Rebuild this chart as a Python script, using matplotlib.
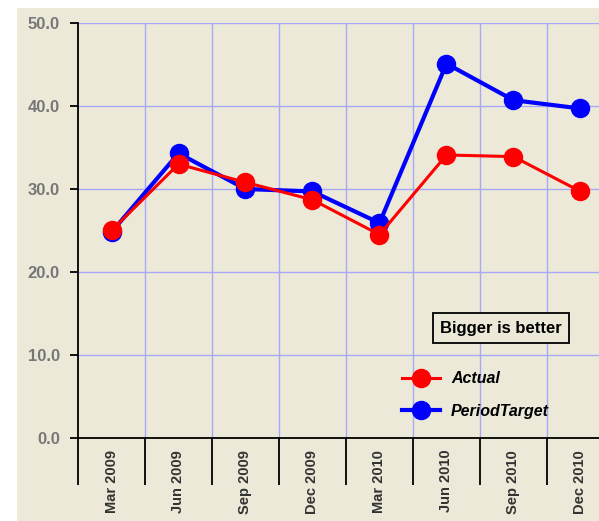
import matplotlib
matplotlib.use("Agg")
import matplotlib.pyplot as plt
from matplotlib.patches import Rectangle
from matplotlib.ticker import FixedLocator

plt.rcParams['font.family'] = ['Liberation Sans', 'DejaVu Sans']

quarters = ["Mar 2009", "Jun 2009", "Sep 2009", "Dec 2009",
            "Mar 2010", "Jun 2010", "Sep 2010", "Dec 2010"]
actual = [25.0, 33.0, 30.8, 28.7, 24.5, 34.1, 33.9, 29.7]
target = [24.8, 34.3, 30.0, 29.7, 25.9, 45.1, 40.7, 39.7]
yticks = [0, 10, 20, 30, 40, 50]

bg = '#ece9d8'
grid_c = '#a8a8f8'

fig = plt.figure(figsize=(5.99, 5.21), dpi=100)
fig.patch.set_facecolor('white')
fig.patches.append(Rectangle((17/599, 0), 1, 1 - 8/521, transform=fig.transFigure,
                             facecolor=bg, edgecolor='none', zorder=-10))

# plot area runs past the right edge of the image (last column is cut off)
ax = fig.add_axes([78/599, 83/521, 536/599, 415/521])
ax.set_facecolor(bg)

x = list(range(len(quarters)))
ax.plot(x, target, color='#0000ff', lw=3, marker='o', ms=13, label='PeriodTarget', zorder=3)
ax.plot(x, actual, color='#ff0000', lw=2.2, marker='o', ms=13, label='Actual', zorder=4)

ax.set_xlim(-0.5, len(quarters) - 0.5)
ax.set_ylim(0, 50)

# grid
for v in yticks[1:]:
    ax.axhline(v, color=grid_c, lw=1, zorder=1)
for b in range(1, len(quarters)):
    ax.axvline(b - 0.5, color=grid_c, lw=1, zorder=1)

for s in ['top', 'right']:
    ax.spines[s].set_visible(False)
ax.spines['left'].set_linewidth(1.3)
ax.spines['bottom'].set_linewidth(1.3)

ax.set_yticks(yticks)
ax.set_yticklabels([f"{v:.1f}" for v in yticks], fontsize=12, fontweight='bold', color='#777777')
ax.tick_params(axis='y', length=5.5, width=1.3, pad=7.5)

ax.set_xticks(x)
ax.set_xticklabels(quarters, rotation=90, fontsize=10.5, fontweight='bold', color='#333333',
                   va='top', ha='center')
ax.tick_params(axis='x', which='major', length=0, pad=8.5)
ax.xaxis.set_minor_locator(FixedLocator([b - 0.5 for b in range(len(quarters) + 1)]))
ax.tick_params(axis='x', which='minor', length=34, width=1.3)

ax.text(0.789, 0.265, "Bigger is better", transform=ax.transAxes, ha='center', va='center',
        fontsize=12, fontweight='bold',
        bbox=dict(boxstyle='square,pad=0.45', facecolor=bg, edgecolor='black', lw=1.3))

handles, labels = ax.get_legend_handles_labels()
leg = ax.legend(handles[::-1], labels[::-1], loc='upper left', bbox_to_anchor=(0.577, 0.195),
                frameon=False, handlelength=2.4, labelspacing=1.085, handletextpad=0.7,
                prop={'weight': 'bold', 'style': 'italic', 'size': 11.5})

fig.savefig('out.png', dpi=100)
